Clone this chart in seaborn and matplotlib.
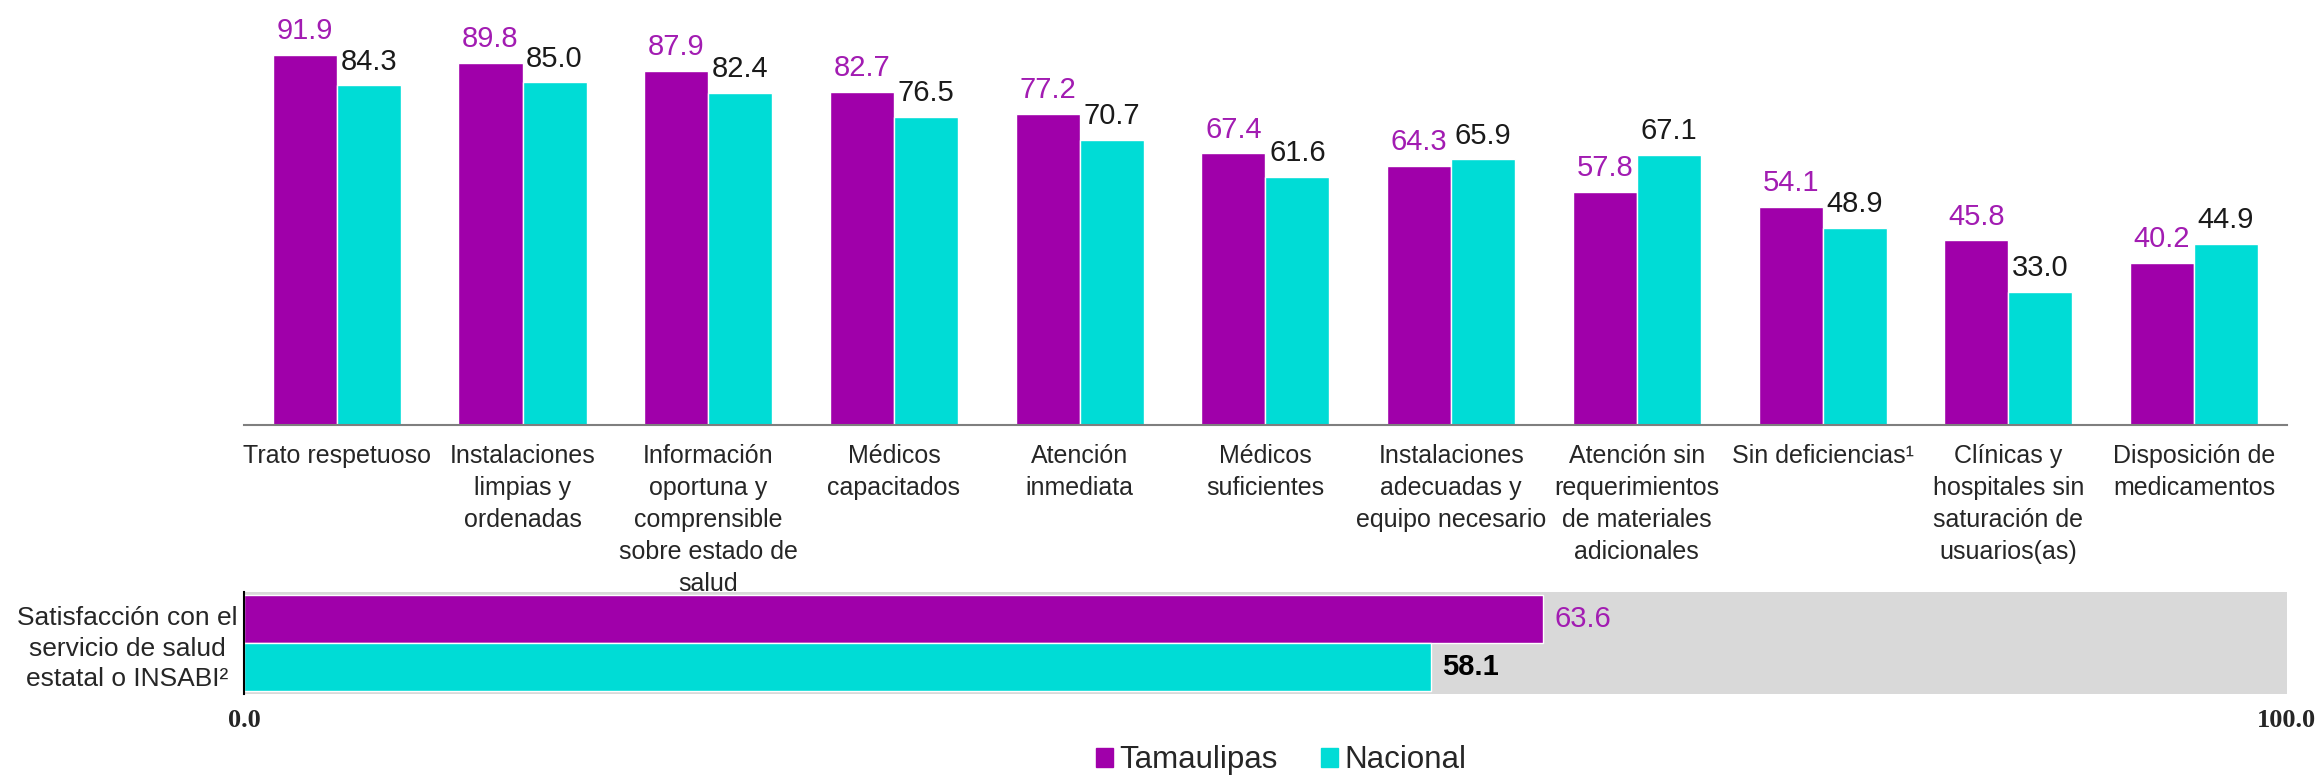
import matplotlib
matplotlib.use('Agg')
import matplotlib.pyplot as plt
import pandas as pd
import seaborn as sns
import numpy as np

# data
categories = [
    'Trato respetuoso',
    'Instalaciones\nlimpias y\nordenadas',
    'Información\noportuna y\ncomprensible\nsobre estado de\nsalud',
    'Médicos\ncapacitados',
    'Atención\ninmediata',
    'Médicos\nsuficientes',
    'Instalaciones\nadecuadas y\nequipo necesario',
    'Atención sin\nrequerimientos\nde materiales\nadicionales',
    'Sin deficiencias¹',
    'Clínicas y\nhospitales sin\nsaturación de\nusuarios(as)',
    'Disposición de\nmedicamentos',
]
tamaulipas = [91.9, 89.8, 87.9, 82.7, 77.2, 67.4, 64.3, 57.8, 54.1, 45.8, 40.2]
nacional = [84.3, 85.0, 82.4, 76.5, 70.7, 61.6, 65.9, 67.1, 48.9, 33.0, 44.9]

summary_label = ['Satisfacción con el\nservicio de salud\nestatal o INSABI²']
summary_tamaulipas = [63.6]
summary_nacional = [58.1]

series = ['Tamaulipas', 'Nacional']
palette = {'Tamaulipas': '#A000AA', 'Nacional': '#00DCD6'}
label_colors = {'Tamaulipas': '#A21CB2', 'Nacional': '#1a1a1a'}

sns.set_style('white')
plt.rcParams['font.family'] = ['Liberation Sans', 'DejaVu Sans']

top_df = pd.DataFrame({'cat': categories, 'Tamaulipas': tamaulipas, 'Nacional': nacional})
top_df = top_df.melt(id_vars='cat', var_name='serie', value_name='valor')

bot_df = pd.DataFrame({'cat': summary_label, 'Tamaulipas': summary_tamaulipas,
                       'Nacional': summary_nacional})
bot_df = bot_df.melt(id_vars='cat', var_name='serie', value_name='valor')

fig = plt.figure(figsize=(23.21, 7.76), dpi=100)
ax = fig.add_axes([0.1051, 0.4523, 0.8802, 0.5193])
ax2 = fig.add_axes([0.1051, 0.1057, 0.8802, 0.1314])

# top chart
sns.barplot(data=top_df, x='cat', y='valor', hue='serie', hue_order=series,
            palette=palette, width=0.69, saturation=1, ax=ax, legend=False)
ax.set_ylim(0, 100)
ax.set_xlim(-0.5, len(categories) - 0.5)
for cont, s in zip(ax.containers, series):
    ax.bar_label(cont, fmt='%.1f', padding=7, fontsize=21, color=label_colors[s])
ax.set_xlabel('')
ax.set_ylabel('')
ax.set_yticks([])
for side in ['top', 'right', 'left']:
    ax.spines[side].set_visible(False)
ax.spines['bottom'].set_color('#7f7f7f')
ax.spines['bottom'].set_linewidth(1.5)
ax.set_xticks(range(len(categories)))
ax.set_xticklabels(categories, fontsize=18, linespacing=1.42, va='top')
ax.set_xticks(np.arange(-0.5, len(categories), 1.0), minor=True)
ax.tick_params(axis='x', which='major', length=0, pad=14)
ax.tick_params(axis='x', which='minor', length=7, width=1.5, color='#7f7f7f', direction='out')

# bottom chart
sns.barplot(data=bot_df, y='cat', x='valor', hue='serie', hue_order=series,
            palette=palette, width=0.94, saturation=1, orient='h', ax=ax2, legend=False)
ax2.set_facecolor('#D9D9D9')
ax2.set_xlim(0, 100)
ax2.set_ylim(0.5, -0.5)
ax2.bar_label(ax2.containers[0], fmt='%.1f', padding=8, fontsize=21, color=label_colors['Tamaulipas'])
ax2.bar_label(ax2.containers[1], fmt='%.1f', padding=8, fontsize=21, color='black', fontweight='bold')
ax2.set_xlabel('')
ax2.set_ylabel('')
for side in ['top', 'right', 'bottom']:
    ax2.spines[side].set_visible(False)
ax2.spines['left'].set_color('black')
ax2.spines['left'].set_linewidth(1.5)
ax2.set_yticks([0])
ax2.set_yticklabels(summary_label, fontsize=19, linespacing=1.35, ha='center')
ax2.set_yticks([-0.5, 0.5], minor=True)
ax2.tick_params(axis='y', which='major', length=0, pad=84)
ax2.tick_params(axis='y', which='minor', length=6, width=1.5, color='black')
ax2.set_xticks([0, 100])
ax2.set_xticklabels(['0.0', '100.0'], fontsize=19, fontweight='bold', family='Liberation Serif')
ax2.tick_params(axis='x', length=0, pad=11)

# legend
handles = [plt.Rectangle((0, 0), 1, 1, color=palette[s]) for s in series]
fig.legend(handles, series, loc='center', bbox_to_anchor=(0.552, 0.02), ncol=2,
           frameon=False, fontsize=22.5, handlelength=0.55, handleheight=0.55,
           handletextpad=0.2, columnspacing=1.4)

fig.savefig('out.png', dpi=100)
